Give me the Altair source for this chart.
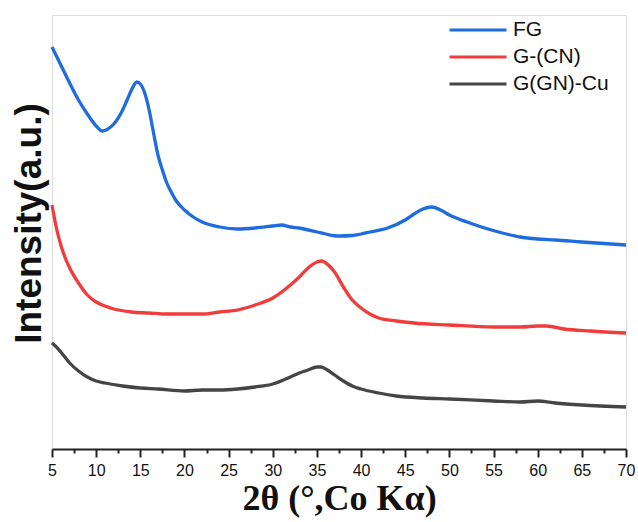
import altair as alt
import pandas as pd

# --- data (2theta in degrees, intensity in arbitrary units) ---
fg_x = [5, 5.5, 6, 7, 8, 9, 10, 10.7, 11.5, 12, 13, 13.5, 14, 14.6, 15, 15.5, 16, 16.5, 17,
        17.5, 18, 18.5, 19, 20, 21, 22, 24, 26, 28, 30, 31, 32, 33, 35, 36, 37.5, 39, 40, 41,
        43, 45, 46, 47, 48, 49, 50, 52, 54, 56, 58, 60, 62, 65, 70]
fg_y = [402, 393, 384, 366, 349, 335, 323, 318, 321, 325, 339, 349, 359, 367, 365, 356, 339,
        316, 294, 279, 266, 257, 249, 239, 232, 227, 222, 220, 221, 223, 224, 222, 221, 217,
        215, 213, 213.5, 215, 217, 221, 229, 235, 240, 242, 239, 234, 227, 221, 216, 212, 210,
        209, 207, 204]

cn_x = [5, 5.5, 6, 6.5, 7, 8, 9, 10, 11, 12, 14, 16, 18, 20, 22, 24, 26, 28, 30, 32, 33, 34,
        35, 35.5, 36, 37, 38, 39, 40, 41, 42, 44, 46, 50, 55, 58, 60, 61, 63, 66, 70]
cn_y = [244, 221, 204, 191, 181, 166, 154, 147, 143, 140, 137, 136, 135, 135, 135, 137, 139,
        144, 151, 164, 172, 181, 187, 188, 186, 177, 162, 149, 141, 135, 131, 128, 126, 124,
        122, 122, 123, 123, 120, 118, 116]

cu_x = [5, 5.5, 6, 7, 8, 9, 10, 11, 13, 15, 17, 20, 22, 24, 26, 28, 30, 32, 33, 34, 35, 35.5,
        36, 37, 38, 39, 40, 42, 44, 47, 50, 55, 58, 60, 62, 65, 70]
cu_y = [106, 102, 97, 86, 78, 72, 68, 66, 63, 61, 60, 58, 59, 59, 60, 62, 65, 72, 76, 79, 82,
        82, 80, 74, 68, 63, 60, 56, 53, 51, 50, 48, 47, 48, 46, 44, 42]

series_names = ["FG", "G-(CN)", "G(GN)-Cu"]
series_colors = ["#1f6be0", "#f23c3c", "#454545"]

major_ticks = [5, 10, 15, 20, 25, 30, 35, 40, 45, 50, 55, 60, 65, 70]
minor_ticks = [7.5, 12.5, 17.5, 22.5, 27.5, 32.5, 37.5, 42.5, 47.5, 52.5, 57.5, 62.5, 67.5]

rows = []
for name, xs, ys in zip(series_names, [fg_x, cn_x, cu_x], [fg_y, cn_y, cu_y]):
    for i, (a, b) in enumerate(zip(xs, ys)):
        rows.append({"series": name, "theta": a, "intensity": b, "order": i})
df = pd.DataFrame(rows)

xscale = alt.Scale(domain=[5, 70], nice=False, zero=False)

lines = alt.Chart(df).mark_line(strokeWidth=3.3, interpolate="monotone").encode(
    x=alt.X("theta:Q", scale=xscale,
            axis=alt.Axis(
                orient="bottom",
                values=major_ticks,
                title="2θ (°,Co Kα)",
                titleFont="Liberation Serif",
                titleFontSize=36,
                titleFontWeight="bold",
                titleColor="#111111",
                titlePadding=3,
                labelFont="Liberation Sans",
                labelFontSize=16,
                labelColor="#111111",
                labelPadding=5,
                labelFlush=False,
                tickSize=8,
                tickColor="#222222",
                tickWidth=2,
                domainColor="#222222",
                domainWidth=2,
                grid=False,
            )),
    y=alt.Y("intensity:Q",
            scale=alt.Scale(domain=[0, 434], nice=False, zero=True),
            axis=alt.Axis(
                title="Intensity(a.u.)",
                titleFont="Liberation Sans",
                titleFontSize=37,
                titleFontWeight="bold",
                titleColor="#111111",
                titleX=-12,
                titleY=208,
                titleAlign="center",
                titleBaseline="alphabetic",
                titleAngle=270,
                labels=False,
                ticks=False,
                domain=False,
                grid=False,
            )),
    color=alt.Color("series:N",
                    scale=alt.Scale(domain=series_names, range=series_colors),
                    legend=alt.Legend(
                        title=None,
                        orient="none",
                        legendX=415,
                        legendY=4,
                        padding=0,
                        symbolType="M-3,0H3",
                        symbolSize=361,
                        symbolStrokeWidth=3,
                        labelOffset=24,
                        labelFont="Liberation Sans",
                        labelFontSize=21,
                        labelColor="#111111",
                        rowPadding=6,
                    )),
    order="order:Q",
)

minor = alt.Chart(pd.DataFrame({"theta": minor_ticks})).mark_point(opacity=0).encode(
    x=alt.X("theta:Q", scale=xscale,
            axis=alt.Axis(
                orient="bottom",
                values=minor_ticks,
                title=None,
                labels=False,
                domain=False,
                grid=False,
                tickSize=4,
                tickWidth=2,
                tickColor="#222222",
            )),
)

chart = alt.layer(lines, minor).resolve_axis(x="independent").properties(
    width=574,
    height=434,
    padding={"left": 52, "top": 15, "right": 12, "bottom": 73},
    autosize=alt.AutoSizeParams(type="none"),
).configure_view(
    stroke="#222222",
    strokeWidth=2,
).configure(background="white")

chart.save("out.html", embed_options={"renderer": "svg", "actions": False})
